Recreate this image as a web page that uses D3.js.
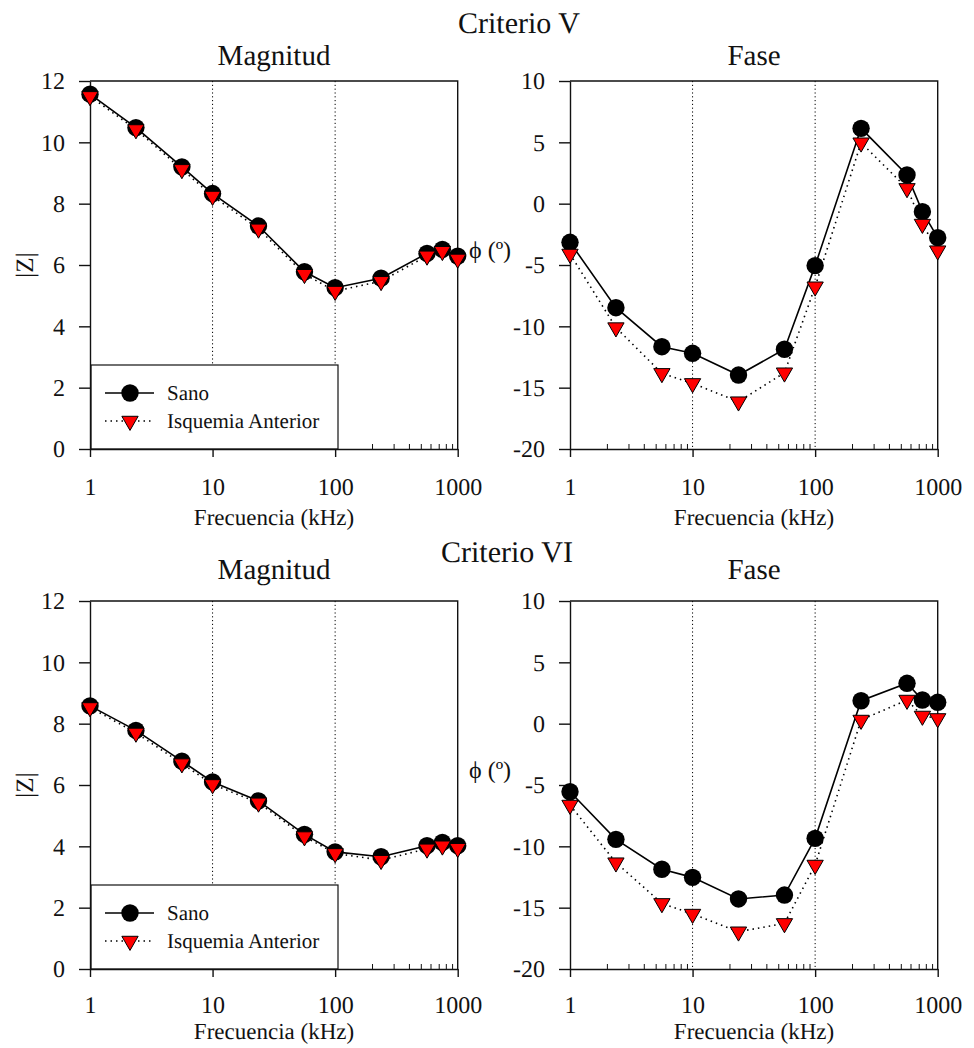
<!DOCTYPE html>
<html>
<head>
<meta charset="utf-8">
<script src="https://cdn.jsdelivr.net/npm/d3@7"></script>
<style>
  body { margin: 0; background: #fff; }
  text { font-family: "Liberation Serif", "Times New Roman", serif; fill: #111; text-rendering: geometricPrecision; }
</style>
</head>
<body>
<div id="chart"></div>
<script>
// frequencies in kHz
var freq = [1, 2.37, 5.62, 10, 23.7, 56.2, 100, 237, 562, 750, 1000];

// Criterio V
var magV_sano = [11.57, 10.48, 9.2, 8.33, 7.27, 5.78, 5.26, 5.57, 6.38, 6.51, 6.29];
var magV_isq  = [11.5, 10.42, 9.12, 8.25, 7.18, 5.7, 5.15, 5.47, 6.3, 6.45, 6.2];
var phaseV_sano = [-3.15, -8.48, -11.66, -12.2, -13.97, -11.87, -5.05, 6.14, 2.34, -0.65, -2.77];
var phaseV_isq  = [-4.1, -10.1, -13.83, -14.65, -16.14, -13.78, -6.77, 4.97, 1.25, -1.66, -3.83];

// Criterio VI
var magVI_sano = [8.58, 7.78, 6.78, 6.1, 5.48, 4.39, 3.82, 3.66, 4.02, 4.13, 4.02];
var magVI_isq  = [8.53, 7.7, 6.7, 6.02, 5.42, 4.32, 3.77, 3.55, 3.92, 4.02, 3.94];
var phaseVI_sano = [-5.55, -9.43, -11.87, -12.53, -14.29, -13.97, -9.35, 1.87, 3.29, 1.93, 1.74];
var phaseVI_isq  = [-6.63, -11.33, -14.65, -15.52, -16.96, -16.28, -11.52, 0.3, 1.93, 0.63, 0.43];

var xTicks = [1, 10, 100, 1000];
var magTicks = [0, 2, 4, 6, 8, 10, 12];
var phaseTicks = [-20, -15, -10, -5, 0, 5, 10];
var seriesNames = ["Sano", "Isquemia Anterior"];

var svg = d3.select("#chart").append("svg")
  .attr("width", 974)
  .attr("height", 1048);

var W = 367.7, H = 368;
var SERIF = "Liberation Serif";

// minor ticks 2..9 per decade
var minorTicks = [];
[1, 10, 100].forEach(function(d) {
  for (var k = 2; k <= 9; k++) minorTicks.push(d * k);
});

function styleAxis(a) {
  a.attr("font-family", SERIF);
  a.selectAll("text").attr("font-size", 24).attr("fill", "#111").style("font-family", SERIF);
  a.selectAll("line, path").attr("stroke", "#111").attr("stroke-width", 1.4);
}

function drawPanel(left, top, yDomain, yTicks, sano, isq, hasLegend, xPad) {
  var g = svg.append("g").attr("transform", "translate(" + left + "," + top + ")");
  var x = d3.scaleLog().domain([1, 1000]).range([0, W]);
  var y = d3.scaleLinear().domain(yDomain).range([H, 0]);

  // dotted gridlines at decades
  g.selectAll(".grid").data([10, 100]).enter().append("line")
    .attr("x1", d => x(d)).attr("x2", d => x(d))
    .attr("y1", 0).attr("y2", H)
    .attr("stroke", "#000").attr("stroke-width", 1)
    .attr("stroke-dasharray", "1.2,2.6");

  // minor ticks (inward)
  g.append("g")
    .attr("transform", "translate(0," + H + ")")
    .call(d3.axisBottom(x).tickValues(minorTicks).tickSize(-5).tickFormat(""))
    .call(a => a.select(".domain").remove())
    .selectAll("line").attr("stroke", "#111").attr("stroke-width", 1);

  if (hasLegend) {
    // legend box covers the lower left corner
    var lg = g.append("g").attr("transform", "translate(1," + (H - 84) + ")");
    lg.append("rect").attr("width", 247).attr("height", 84)
      .attr("fill", "#fff").attr("stroke", "#111").attr("stroke-width", 1.2);
    lg.append("line").attr("x1", 14).attr("x2", 63).attr("y1", 28).attr("y2", 28)
      .attr("stroke", "#000").attr("stroke-width", 1.5);
    lg.append("circle").attr("cx", 39).attr("cy", 28).attr("r", 8.7).attr("fill", "#000");
    lg.append("text").attr("x", 76).attr("y", 35).attr("font-size", 21).text(seriesNames[0]);
    lg.append("line").attr("x1", 14).attr("x2", 63).attr("y1", 56).attr("y2", 56)
      .attr("stroke", "#000").attr("stroke-width", 1.5).attr("stroke-dasharray", "1.5,4");
    lg.append("path").attr("d", d3.symbol(d3.symbolTriangle, 115)())
      .attr("transform", "translate(39,56) rotate(180)")
      .attr("fill", "#f00").attr("stroke", "#000").attr("stroke-width", 1);
    lg.append("text").attr("x", 76).attr("y", 63).attr("font-size", 21).text(seriesNames[1]);
  }

  // x axis
  g.append("g")
    .attr("transform", "translate(0," + H + ")")
    .call(d3.axisBottom(x).tickValues(xTicks).tickSize(8).tickSizeOuter(0)
      .tickPadding(xPad).tickFormat(d => String(d)))
    .call(styleAxis);

  // y axis (hyphen minus like the original)
  g.append("g")
    .call(d3.axisLeft(y).tickValues(yTicks).tickSize(11).tickSizeOuter(0).tickPadding(14)
      .tickFormat(d => String(d)))
    .call(styleAxis);

  // top and right frame
  g.append("path")
    .attr("d", "M0,0H" + W + "V" + H)
    .attr("fill", "none").attr("stroke", "#111").attr("stroke-width", 1.4);

  var line = d3.line().x((d, i) => x(freq[i])).y(d => y(d));

  g.append("path").datum(sano).attr("d", line)
    .attr("fill", "none").attr("stroke", "#000").attr("stroke-width", 1.6);
  g.append("path").datum(isq).attr("d", line)
    .attr("fill", "none").attr("stroke", "#000").attr("stroke-width", 1.6)
    .attr("stroke-dasharray", "1.5,4");

  g.selectAll(".sano").data(sano).enter().append("circle")
    .attr("cx", (d, i) => x(freq[i])).attr("cy", d => y(d))
    .attr("r", 8.7).attr("fill", "#000");

  g.selectAll(".isq").data(isq).enter().append("path")
    .attr("d", d3.symbol(d3.symbolTriangle, 115)())
    .attr("transform", (d, i) => "translate(" + x(freq[i]) + "," + y(d) + ") rotate(180)")
    .attr("fill", "#f00").attr("stroke", "#000").attr("stroke-width", 1);

  return g;
}

function label(x, y, txt, size, anchor) {
  return svg.append("text").attr("x", x).attr("y", y)
    .attr("font-size", size).attr("text-anchor", anchor || "middle").text(txt);
}

var rows = [
  { top: 81, crit: "Criterio V", critX: 519, critY: 33, titleY: 65, xPad: 21, xtY: 525,
    mag: [magV_sano, magV_isq], ph: [phaseV_sano, phaseV_isq] },
  { top: 601, crit: "Criterio VI", critX: 507, critY: 562, titleY: 579, xPad: 19, xtY: 1039,
    mag: [magVI_sano, magVI_isq], ph: [phaseVI_sano, phaseVI_isq] }
];

rows.forEach(function(r) {
  drawPanel(90, r.top, [0, 12], magTicks, r.mag[0], r.mag[1], true, r.xPad);
  drawPanel(570, r.top, [-20, 10], phaseTicks, r.ph[0], r.ph[1], false, r.xPad);

  label(r.critX, r.critY, r.crit, 30);
  label(274, r.titleY, "Magnitud", 29);
  label(754, r.titleY, "Fase", 29);

  label(274, r.xtY, "Frecuencia (kHz)", 23);
  label(754, r.xtY, "Frecuencia (kHz)", 23);

  svg.append("text")
    .attr("transform", "translate(25," + (r.top + 184) + ") rotate(-90)")
    .attr("text-anchor", "middle").attr("dominant-baseline", "central")
    .attr("font-size", 25).text("|Z|");

  label(469, r.top + 177, "ϕ (º)", 24, "start");
});
</script>
</body>
</html>
